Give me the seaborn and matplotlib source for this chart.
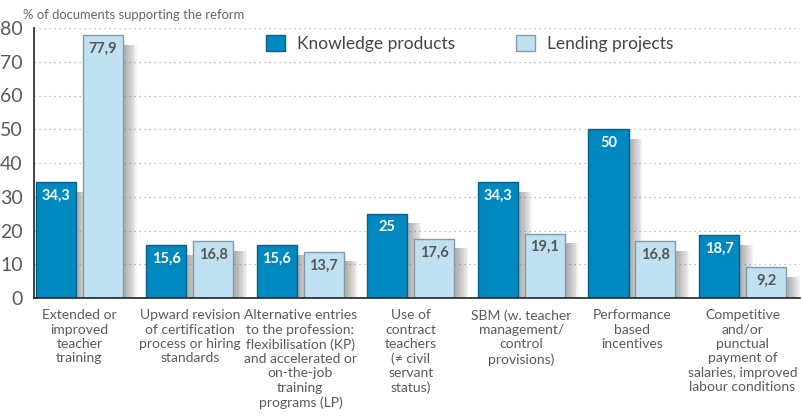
import matplotlib
matplotlib.use("Agg")
import matplotlib.pyplot as plt
import matplotlib.patheffects as pe
from matplotlib.patches import Patch
import seaborn as sns
import pandas as pd

categories = [
    "Extended or\nimproved\nteacher\ntraining",
    "Upward revision\nof certification\nprocess or hiring\nstandards",
    "Alternative entries\nto the profession:\nflexibilisation (KP)\nand accelerated or\non-the-job\ntraining\nprograms (LP)",
    "Use of\ncontract\nteachers\n(\u2260 civil\nservant\nstatus)",
    "SBM (w. teacher\nmanagement/\ncontrol\nprovisions)",
    "Performance\nbased\nincentives",
    "Competitive\nand/or\npunctual\npayment of\nsalaries, improved\nlabour conditions",
]
knowledge = [34.3, 15.6, 15.6, 25, 34.3, 50, 18.7]
lending = [77.9, 16.8, 13.7, 17.6, 19.1, 16.8, 9.2]
series = ["Knowledge products", "Lending projects"]
yticks = [0, 10, 20, 30, 40, 50, 60, 70, 80]

sns.set_theme(style="white")
plt.rcParams["font.family"] = ["Lato", "DejaVu Sans"]

df = pd.DataFrame({
    "cat": categories * 2,
    "val": knowledge + lending,
    "series": [series[0]] * len(categories) + [series[1]] * len(categories),
})

dark, light = "#0089C0", "#BFE1F1"
dark_edge, light_edge = "#0B5F86", "#8499A6"
grey = "#5a5a5a"

fig = plt.figure(figsize=(8.04, 4.20), dpi=100)
ax = fig.add_axes([34 / 804, 1 - 298 / 420, (800 - 34) / 804, (298 - 28) / 420])

sns.barplot(data=df, x="cat", y="val", hue="series", order=categories,
            hue_order=series, palette=[dark, light], width=0.85, gap=0.148,
            ax=ax, legend=False, saturation=1)

shadow = [pe.SimplePatchShadow(offset=(d, -7), shadow_rgbFace="#666666", alpha=0.07)
          for d in (10, 9, 8, 7, 6, 5, 4, 3, 2)]
for i, bar in enumerate(ax.patches[:2 * len(categories)]):
    is_dark = i < len(categories)
    bar.set_edgecolor(dark_edge if is_dark else light_edge)
    bar.set_linewidth(1.0)
    bar.set_path_effects(shadow + [pe.Normal()])
    val = bar.get_height()
    txt = (f"{val:g}").replace(".", ",")
    ax.text(bar.get_x() + bar.get_width() / 2, val - 2.0, txt,
            ha="center", va="top", fontsize=10.5, fontweight="bold",
            color="white" if is_dark else "#555555")

ax.set_ylim(0, 80)
ax.set_xlim(-0.41, 6.52)
ax.set_yticks(yticks)
ax.set_yticklabels([str(t) for t in yticks], fontsize=14, color=grey)
ax.yaxis.grid(True, linestyle=(0, (1, 3)), color="#aaaaaa", linewidth=0.9)
ax.set_axisbelow(True)

ax.set_xticks(range(len(categories)))
ax.set_xticklabels(categories, fontsize=10, color=grey, linespacing=1.24)
ax.tick_params(axis="x", length=0, pad=8)
ax.tick_params(axis="y", length=0, pad=8)
ax.set_xticks([0.523, 1.464, 2.469, 3.5, 4.531, 5.55], minor=True)
ax.tick_params(axis="x", which="minor", length=6, color="#333333", width=1)

ax.set_xlabel("")
ax.set_ylabel("")
for s in ["top", "right"]:
    ax.spines[s].set_visible(False)
for s in ["left", "bottom"]:
    ax.spines[s].set_color("#222222")
    ax.spines[s].set_linewidth(1.2)

fig.text(23 / 804, 1 - 15 / 420, "% of documents supporting the reform",
         fontsize=9.4, color="#666666", va="center", ha="left")

handles = [Patch(facecolor=dark, edgecolor=dark_edge),
           Patch(facecolor=light, edgecolor=light_edge)]
ax.legend(handles, series, loc="center", bbox_to_anchor=(0.569, 0.944),
          ncol=2, frameon=False, fontsize=12.5, handlelength=1.1, handleheight=1.1,
          columnspacing=3.5, handletextpad=0.7, labelcolor="#444444")

fig.savefig("out.png", dpi=100)
